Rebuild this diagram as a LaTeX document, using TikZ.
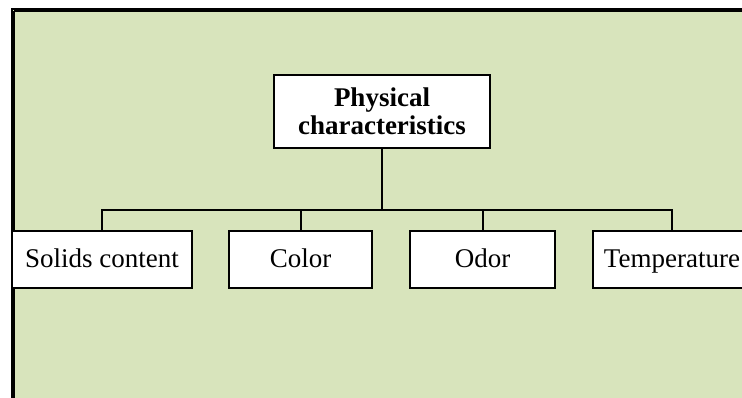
\documentclass[tikz,border=0pt]{standalone}
\usepackage{fontspec}
\setmainfont{Liberation Serif}
\definecolor{bggreen}{HTML}{D8E4BC}
\definecolor{shade}{HTML}{A4AE90}
\tikzset{
  box/.style={draw=black, line width=2pt, fill=white, rectangle, inner sep=0pt, align=center,
    font=\fontsize{27}{28}\selectfont},
  leafbox/.style={box, text height=21pt, text depth=5pt, minimum height=57pt},
  topbox/.style={box, font=\bfseries\fontsize{27}{27.5}\selectfont},
  link/.style={draw=black, line width=2pt}
}
\begin{document}
\begin{tikzpicture}[x=1pt,y=-1pt]
\useasboundingbox (0,0) rectangle (742,398);
\clip (0,0) rectangle (742,398);
% page
\fill[white] (0,0) rectangle (742,398);
\fill[bggreen] (12,9) rectangle (742,398);
\draw[shade, line width=1.2pt] (14,11) -- (742,11);
\draw[shade, line width=1.2pt] (14,11) -- (14,398);
\draw[black, line width=2.2pt] (12,398) -- (12,9) -- (742,9);
% nodes
\node[topbox, minimum width=216pt, minimum height=73pt] (top) at (382,111.5) {Physical\\characteristics};
\node[leafbox, minimum width=180pt] (solids) at (102,259.5) {Solids content};
\node[leafbox, minimum width=143pt] (color) at (300.5,259.5) {Color};
\node[leafbox, minimum width=145pt] (odor) at (482.5,259.5) {Odor};
\node[leafbox, minimum width=158pt] (temp) at (672,259.5) {Temperature};
\coordinate (bar) at (382,210);
% connectors
\draw[link] (top.south) -- (bar);
\draw[link] (solids.north) |- (temp.north |- bar) -- (temp.north);
\draw[link] (color.north) -- (color.north |- bar);
\draw[link] (odor.north) -- (odor.north |- bar);
\end{tikzpicture}
\end{document}
